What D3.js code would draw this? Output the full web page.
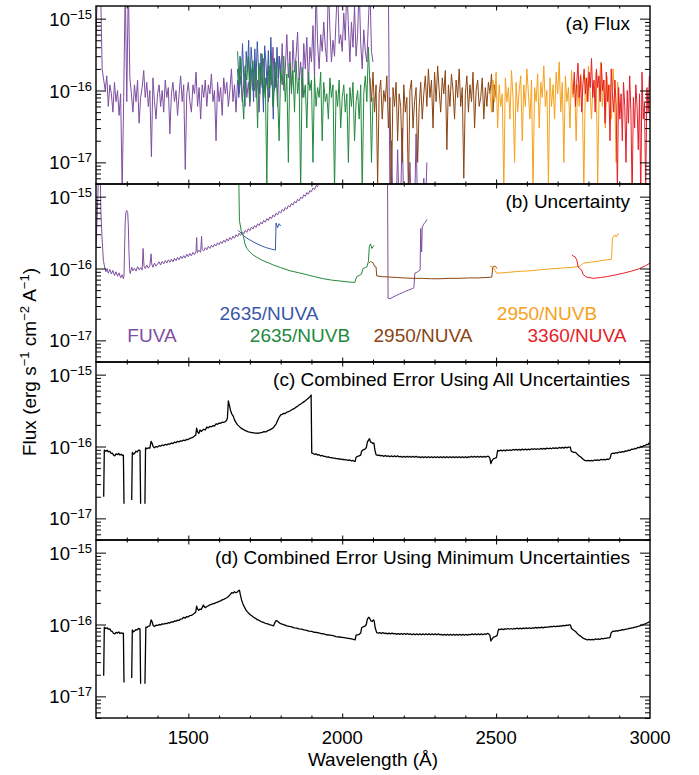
<!DOCTYPE html>
<html><head><meta charset="utf-8">
<script src="https://cdn.jsdelivr.net/npm/d3@7"></script>
<style>
body{margin:0;background:#fff}
svg{display:block}
text{font-family:"Liberation Sans",Arial,Helvetica,sans-serif;fill:#000}
</style>
</head><body>
<svg id="chart" width="699" height="775"></svg>
<script>
// ---------- data (flux values in units of 1e-17 erg s^-1 cm^-2 A^-1) ----------
const UNIT = 1e-17;
const xTickLabels = [1500, 2000, 2500, 3000];
const yMajorExps = [-15, -16, -17];
const panelTitles = ["(a) Flux", "(b) Uncertainty",
  "(c) Combined Error Using All Uncertainties",
  "(d) Combined Error Using Minimum Uncertainties"];
const settingNames = ["FUVA", "2635/NUVA", "2635/NUVB", "2950/NUVA", "2950/NUVB", "3360/NUVA"];

// (a) flux spectra: regular wavelength grid (start, step) + values
const fluxFUVA_grid = [1200, 5];
const fluxFUVA = [
 60,250,300,250,20,14,10,16,6,12,
 9,5,13,7,10,4.5,9,0.4,8,300,
 7,300,15,9,5,12,7,14,3.5,8,
 11,19,8,13,6,10,1.2,15,7,4,
 9,12,6,10,5,14,8,11,2.5,9,
 13,7,10,4.5,9,16,7,12,0.8,9,
 13,7,5,12,9,18,6,11,4,12,
 8,14,6,12,9,17,7,10,2,13,
 7,11,4.5,15,9,13,6,10,20,7,
 12,5,14,9,16,7,12,22,8,13,
 6,18,10,25,8,14,5,19,11,28,
 9,15,7,22,12,40,10,18,6,30,
 13,45,10,20,60,15,35,9,50,18,
 30,65,14,25,8,45,20,55,12,40,
 25,80,15,300,45,20,60,35,90,40,
 25,300,70,25,50,30,100,300,45,60,
 35,120,50,300,80,25,90,40,150,30,
 60,300,45,20,70,35,25,90,300,35,
 25];
const fluxFUVA2_grid = [2150, 5];
const fluxFUVA2 = [300,0.3,2,0.2,0.3,0.2,1.5,0.2,0.3,3,0.2,0.2,0.3,0.2,1,0.2,0.3,0.2,2.5,0.2,0.2,0.3,0.2,0.6,0.2,1];
const flux2635NUVA_grid = [1660, 4];
const flux2635NUVA = [20,8,30,12,45,15,6,35,18,50,10,40,22,7,38,14,48,20,9,33,16,5,42,25,12,36,8,55,18,4,28,11,40,15,30,20];
const flux2635NUVB_grid = [1660, 5];
const flux2635NUVB = [
 35,12,28,9,4,22,14,30,7,18,
 26,10,20,3,24,12,32,8,15,0.5,
 22,11,28,6,14,25,9,2,20,12,
 30,7,17,1,24,10,19,5,26,9,
 15,0.4,21,8,12,3,18,10,14,1,
 16,6,11,8,18,2,13,7,9,4,
 15,8,12,0.4,10,6,14,3,8,12,
 5,9,1,11,6,13,2,7,10,4,
 12,0.4,9,16,7,40,12,1,8];
const flux2950NUVA_grid = [2090, 5];
const flux2950NUVA = [
 15,7,18,5,12,0.5,9,14,4,10,
 7,16,3,8,0.4,11,6,13,2,9,
 6,1,12,5,8,0.4,10,14,3,7,
 11,1,6,13,4,9,16,6,20,8,
 14,3,18,7,22,10,5,15,9,19,
 1.5,12,6,17,10,4,14,8,20,6,
 11,0.6,9,16,5,12,7,18,3,10,
 14,6,8,15,4,11,6,13,9,17,
 5,12,8];
const flux2950NUVB_grid = [2480, 5];
const flux2950NUVB = [
 10,5,14,7,18,3,12,6,9,0.4,
 15,7,11,4,19,8,1,13,5,10,
 16,2,12,6,20,9,4,14,0.4,11,
 7,17,3,13,8,22,6,10,0.5,15,
 6,12,4,18,9,25,5,13,1,16,
 7,11,3,19,8,14,2,12,6,17,
 9,0.4,15,7,22,10,4,13,8,18,
 0.5,11,25,6,14,3,16,7,12,4,
 20,9,1,13,6];
const flux3360NUVA_grid = [2750, 4];
const flux3360NUVA = [
 9,18,6,13,24,8,16,5,12,20,
 9,15,7,18,11,28,8,14,5,20,
 11,16,7,24,10,14,3.5,18,7,12,
 2,20,9,5,14,6,0.4,11,4,9,
 2,13,6,1,10,3.5,16,5,0.3,8,
 3,12,6,1.5,9,0.3,18,4,7,0.4,
 11,5,16];

// (b) uncertainty curves: [wavelength, value]
const uncFUVA = [[1200,20],[1206,100],[1209,300],[1213,300],[1216,60],[1220,25],[1224,13],[1228,10.5],[1232,9.0],[1236,10.0],[1240,8.6],[1245,9.7],[1250,8.4],[1255,9.4],[1260,8.0],[1265,9.0],[1270,7.8],[1275,8.7],[1280,7.4],[1285,8.2],[1289,7.2],[1291,8],[1293,20],[1295,45],[1297,60],[1300,64],[1303,60],[1305,40],[1307,18],[1309,10],[1311,8.5],[1316,10.4],[1320,9.3],[1325,10.1],[1330,9.2],[1335,10.6],[1340,9.6],[1345,10.3],[1350,9.5],[1353,19],[1356,10.8],[1360,10.0],[1365,11.2],[1370,10.1],[1375,11.0],[1379,16],[1381,11.6],[1385,10.4],[1390,11.9],[1395,10.8],[1400,11.5],[1405,12.4],[1410,11.2],[1415,12.6],[1420,11.6],[1425,12.9],[1430,11.9],[1435,13.2],[1440,12.2],[1445,13.5],[1450,12.4],[1455,13.9],[1460,12.9],[1465,14.3],[1470,13.2],[1475,14.8],[1480,13.8],[1485,15.1],[1490,14.0],[1495,15.8],[1500,14.6],[1505,16.2],[1510,15.0],[1515,16.8],[1520,15.6],[1525,17.2],[1527,27],[1529,16.5],[1535,18.0],[1540,16.8],[1543,28],[1545,18.3],[1550,17.6],[1555,19.5],[1560,18.2],[1565,20.3],[1570,19.0],[1575,21.0],[1580,19.8],[1585,21.9],[1590,20.6],[1595,22.8],[1600,21.4],[1605,23.7],[1610,22.3],[1615,24.8],[1620,23.2],[1625,25.9],[1630,24.1],[1635,27.0],[1640,25.3],[1645,28.2],[1650,26.4],[1655,29.5],[1660,27.7],[1665,30.9],[1670,29.0],[1675,32.4],[1680,30.4],[1685,34.0],[1690,31.9],[1695,35.8],[1700,33.6],[1705,37.7],[1710,35.4],[1715,39.7],[1720,37.3],[1725,41.9],[1730,39.4],[1735,44.2],[1740,41.6],[1745,46.7],[1750,44.0],[1755,49.4],[1760,46.5],[1765,52.3],[1770,49.3],[1775,55.4],[1780,52.3],[1785,58.8],[1790,55.5],[1795,62.4],[1800,59.0],[1805,66.4],[1810,62.8],[1815,70.7],[1820,66.9],[1825,75.4],[1830,71.4],[1835,80.5],[1840,76.3],[1845,86.0],[1850,81.6],[1855,92.0],[1860,87.4],[1865,98.6],[1870,93.7],[1875,106],[1880,101],[1885,114],[1890,108],[1895,122],[1900,117],[1905,132],[1910,126],[1915,143],[1920,137],[1925,160]];
const uncFUVA2 = [[2147,300],[2149,3.85],[2155,3.8],[2165,4.0],[2175,4.2],[2185,4.4],[2195,4.6],[2205,4.8],[2215,5.0],[2225,5.2],[2231,5.3],[2233,5.6],[2236,8.6],[2245,9.0],[2253,9.5],[2255,36],[2258,17],[2260,38],[2266,42],[2270,44],[2275,48]];
const unc2635NUVA = [[1662,34],[1668,32],[1675,30.5],[1680,28.5],[1690,26.5],[1700,25],[1710,23.6],[1720,22.4],[1730,21.4],[1740,20.5],[1750,19.7],[1760,19.1],[1770,18.6],[1780,18.2],[1783,18],[1785,43],[1790,37],[1795,42],[1800,39]];
const unc2635NUVB = [[1662,300],[1663,300],[1666,47],[1672,33],[1679,28],[1684,22],[1690,19],[1700,17],[1710,15.5],[1722,14.4],[1740,13],[1760,12],[1776,11.2],[1800,10.3],[1830,9.3],[1860,8.7],[1885,8.2],[1910,7.7],[1939,7.2],[1965,6.9],[1993,6.7],[2020,6.5],[2041,6.4],[2047,7.7],[2055,8],[2062,8.3],[2068,10],[2075,10.3],[2080,10.5],[2085,12.5],[2088,20],[2092,22],[2096,19],[2100,20],[2104,21]];
const unc2950NUVA = [[2088,12],[2092,12.5],[2096,12.3],[2100,12],[2105,10.7],[2110,10.5],[2112,7.9],[2130,7.7],[2155,7.6],[2180,7.5],[2200,7.4],[2230,7.3],[2260,7.3],[2290,7.2],[2318,7.2],[2350,7.3],[2380,7.3],[2410,7.4],[2440,7.4],[2470,7.5],[2486,7.6],[2489,10.4],[2496,10.8],[2504,10]];
const unc2950NUVB = [[2480,10.7],[2490,10.5],[2496,9.5],[2502,8.6],[2534,8.8],[2570,9.1],[2610,9.3],[2643,9.6],[2680,9.9],[2720,10.2],[2751,10.4],[2773,10.8],[2784,11.9],[2810,12.3],[2840,12.8],[2859,13.2],[2875,13.5],[2878,26.4],[2886,29.3],[2890,27.5],[2897,31]];
const unc3360NUVA = [[2746,15.5],[2752,14.8],[2756,14.6],[2762,13.2],[2767,10.4],[2778,9.5],[2783,8.2],[2794,7.6],[2816,7.3],[2840,7.5],[2859,7.7],[2885,8.1],[2913,8.6],[2940,9.2],[2967,10],[2985,10.9],[3000,11.9]];

// (c) combined error, all uncertainties (null = gap)
const errAll = [[1225,2.0],[1227,8.9],[1232,8.6],[1236,8.9],[1240,8.4],[1245,8.6],[1249,8.0],[1253,8.1],[1257,7.6],[1261,7.4],[1265,7.9],[1270,7.7],[1274,8.0],[1278,7.6],[1282,7.8],[1286,7.5],[1289,7.6],[1291,1.6],[1300,null],[1316,1.8],[1318,8.3],[1322,7.8],[1326,8.1],[1330,8.6],[1334,8.4],[1338,8.9],[1343,8.8],[1345,1.6],[1352,null],[1359,1.6],[1361,9.6],[1365,9.3],[1370,9.6],[1375,9.5],[1379,11.8],[1382,11.2],[1386,9.9],[1390,9.6],[1395,10.0],[1400,9.8],[1405,10.3],[1410,10.1],[1415,10.5],[1420,10.3],[1425,10.7],[1430,10.5],[1435,10.9],[1440,10.8],[1445,11.2],[1450,11.0],[1455,11.5],[1460,11.3],[1465,11.8],[1470,11.6],[1475,12.0],[1480,11.9],[1485,12.3],[1490,12.1],[1495,12.6],[1500,12.5],[1505,13.0],[1510,13.2],[1515,13.4],[1520,14.0],[1524,14.4],[1527,18.0],[1530,16.0],[1534,15.2],[1538,17.0],[1542,16.2],[1546,16.8],[1550,17.4],[1555,17.0],[1560,18.6],[1565,18.2],[1570,19.0],[1575,18.8],[1580,19.5],[1585,19.3],[1590,20.6],[1595,20.4],[1600,21.2],[1605,21.0],[1610,21.8],[1615,21.6],[1620,22.3],[1624,23.0],[1627,25],[1630,43],[1633,38],[1637,32],[1641,28.5],[1646,26.5],[1650,23.5],[1655,21.5],[1660,20],[1668,18.6],[1675,17.6],[1680,17.2],[1685,16.6],[1690,16.4],[1695,16.0],[1700,15.9],[1705,15.6],[1710,15.6],[1715,15.4],[1720,15.4],[1727,15.3],[1733,15.5],[1740,15.7],[1746,16.1],[1752,16.0],[1758,16.6],[1765,17.0],[1770,17.6],[1775,18.0],[1780,19.2],[1785,20.5],[1790,23],[1795,25.5],[1800,27.5],[1805,28.0],[1810,29.0],[1815,28.8],[1820,30.0],[1825,30.5],[1830,31.2],[1835,32.2],[1840,33.2],[1845,34.0],[1850,35.3],[1855,36.4],[1860,37.8],[1865,39.0],[1870,40.3],[1875,41.8],[1880,43.3],[1885,45.0],[1890,47.0],[1895,49.5],[1899,52],[1901,8.1],[1905,8.0],[1910,7.8],[1915,7.9],[1920,7.6],[1925,7.7],[1930,7.4],[1935,7.5],[1940,7.3],[1945,7.3],[1950,7.1],[1955,7.2],[1960,7.0],[1965,7.0],[1970,6.9],[1975,6.9],[1980,6.8],[1985,6.8],[1990,6.7],[1995,6.7],[2000,6.6],[2005,6.6],[2010,6.5],[2015,6.5],[2020,6.4],[2025,6.5],[2030,6.3],[2035,6.4],[2040,6.2],[2042,6.2],[2045,7.1],[2050,7.3],[2055,7.4],[2060,7.6],[2063,8.6],[2068,9.0],[2074,9.2],[2078,9.6],[2082,11.6],[2086,12.4],[2089,12.8],[2092,11.5],[2096,11.4],[2100,11.0],[2103,11.2],[2106,9.0],[2110,7.7],[2115,7.5],[2120,7.6],[2125,7.4],[2130,7.5],[2135,7.3],[2140,7.5],[2145,7.3],[2150,7.4],[2155,7.2],[2160,7.4],[2165,7.2],[2170,7.4],[2175,7.2],[2180,7.4],[2185,7.2],[2190,7.3],[2195,7.1],[2200,7.3],[2205,7.1],[2210,7.3],[2215,7.1],[2220,7.3],[2225,7.1],[2230,7.3],[2235,7.1],[2240,7.3],[2245,7.1],[2250,7.2],[2255,7.0],[2260,7.2],[2265,7.0],[2270,7.2],[2275,7.0],[2280,7.2],[2285,7.0],[2290,7.2],[2295,7.0],[2300,7.2],[2305,7.0],[2310,7.2],[2315,7.0],[2320,7.2],[2325,7.0],[2330,7.2],[2335,7.0],[2340,7.2],[2345,7.0],[2350,7.2],[2355,7.0],[2360,7.2],[2365,7.0],[2370,7.2],[2375,7.0],[2380,7.2],[2385,7.0],[2390,7.2],[2395,7.0],[2400,7.2],[2405,7.0],[2410,7.2],[2415,7.1],[2420,7.3],[2425,7.1],[2430,7.3],[2435,7.1],[2440,7.3],[2445,7.1],[2450,7.3],[2455,7.1],[2460,7.3],[2465,7.1],[2470,7.3],[2476,7.3],[2480,6.8],[2483,5.8],[2487,6.4],[2492,6.8],[2497,6.9],[2501,7.0],[2505,8.8],[2510,8.7],[2515,8.9],[2520,8.7],[2525,8.9],[2530,8.7],[2535,9.0],[2540,8.8],[2545,9.0],[2550,8.8],[2555,9.1],[2560,8.9],[2565,9.1],[2570,8.9],[2575,9.1],[2580,8.9],[2585,9.2],[2590,9.0],[2595,9.2],[2600,9.0],[2605,9.2],[2610,9.0],[2615,9.3],[2620,9.1],[2625,9.3],[2630,9.1],[2635,9.3],[2640,9.1],[2645,9.4],[2650,9.2],[2655,9.4],[2660,9.2],[2665,9.5],[2670,9.3],[2675,9.5],[2680,9.3],[2685,9.6],[2690,9.4],[2695,9.6],[2700,9.4],[2705,9.7],[2710,9.5],[2715,9.7],[2720,9.5],[2725,9.8],[2730,9.6],[2735,9.8],[2741,9.8],[2744,8.6],[2752,8.3],[2758,8.3],[2764,7.8],[2770,7.4],[2776,7.1],[2782,6.7],[2788,6.4],[2794,6.3],[2800,6.4],[2805,6.3],[2810,6.4],[2815,6.3],[2820,6.5],[2825,6.4],[2830,6.5],[2835,6.4],[2840,6.6],[2845,6.5],[2850,6.6],[2855,6.5],[2860,6.7],[2865,6.6],[2870,6.8],[2874,7.9],[2880,8.1],[2885,8.0],[2890,8.2],[2895,8.1],[2900,8.4],[2905,8.3],[2910,8.5],[2915,8.4],[2920,8.7],[2925,8.6],[2930,8.9],[2935,8.8],[2940,9.2],[2945,9.1],[2950,9.4],[2955,9.3],[2960,9.7],[2965,9.6],[2970,10.0],[2975,9.9],[2980,10.3],[2985,10.4],[2990,10.7],[2994,10.6],[2997,11.2],[3000,11.0]];

// (d) combined error, minimum uncertainties
const errMin = [[1225,1.93],[1227,9.2],[1232,8.8],[1236,9.0],[1240,8.6],[1245,8.7],[1249,8.1],[1253,8.0],[1257,7.5],[1261,7.4],[1265,7.8],[1270,7.6],[1274,7.9],[1278,7.5],[1282,7.7],[1286,7.5],[1289,7.6],[1291,1.56],[1300,null],[1316,1.8],[1318,8.4],[1322,7.9],[1326,8.2],[1330,8.5],[1334,8.4],[1338,8.8],[1343,8.7],[1345,1.5],[1352,null],[1359,1.5],[1362,9.2],[1366,9.1],[1370,9.5],[1375,9.6],[1379,11.6],[1382,11.0],[1386,9.6],[1390,9.4],[1395,9.8],[1400,9.7],[1405,10.0],[1410,9.9],[1415,10.2],[1420,10.1],[1425,10.4],[1430,10.3],[1435,10.6],[1440,10.5],[1445,10.9],[1450,10.8],[1455,11.2],[1460,11.1],[1465,11.5],[1470,11.4],[1475,11.9],[1480,12.0],[1485,12.6],[1490,12.3],[1495,12.9],[1500,12.8],[1505,13.3],[1510,13.4],[1515,13.8],[1520,14.4],[1524,14.8],[1527,18.0],[1530,16.4],[1534,15.8],[1538,16.4],[1542,16.2],[1546,17.6],[1549,18.7],[1552,17.6],[1556,17.2],[1560,17.8],[1565,18.2],[1570,18.8],[1575,19.0],[1580,19.5],[1585,19.6],[1590,20.2],[1595,20.4],[1600,21.0],[1605,21.3],[1610,22.0],[1615,22.4],[1620,23.0],[1625,23.6],[1630,24.6],[1635,25.8],[1641,27.7],[1645,27.3],[1650,28.5],[1655,27.6],[1659,28.4],[1663,29.6],[1666,30],[1669,26],[1673,22],[1677,19.5],[1682,17.6],[1687,16.0],[1692,15.0],[1700,13.8],[1706,13.2],[1712,12.6],[1718,12.2],[1724,11.7],[1730,11.4],[1736,11.0],[1742,10.8],[1750,10.4],[1758,10.2],[1766,9.9],[1773,9.7],[1777,9.6],[1781,10.6],[1785,11.3],[1789,11.2],[1793,10.8],[1798,10.4],[1805,10.1],[1812,9.9],[1820,9.6],[1828,9.4],[1836,9.3],[1844,9.0],[1852,8.9],[1860,8.7],[1868,8.6],[1876,8.4],[1884,8.3],[1892,8.1],[1900,8.0],[1910,7.8],[1920,7.7],[1930,7.5],[1940,7.4],[1950,7.2],[1960,7.1],[1970,7.0],[1980,6.8],[1990,6.7],[2000,6.6],[2010,6.5],[2020,6.4],[2030,6.3],[2042,6.1],[2045,7.1],[2050,7.2],[2055,7.3],[2060,7.6],[2063,9.0],[2068,9.3],[2074,9.5],[2078,10.0],[2082,12.0],[2086,12.6],[2089,12.2],[2093,11.3],[2097,11.0],[2101,11.6],[2104,11.2],[2107,9.0],[2112,7.7],[2117,7.6],[2122,7.7],[2127,7.5],[2132,7.7],[2137,7.5],[2142,7.6],[2147,7.4],[2152,7.6],[2157,7.4],[2162,7.6],[2167,7.4],[2172,7.5],[2177,7.3],[2182,7.5],[2187,7.3],[2192,7.5],[2197,7.3],[2202,7.5],[2207,7.3],[2212,7.5],[2217,7.3],[2222,7.4],[2227,7.2],[2232,7.4],[2237,7.2],[2242,7.4],[2247,7.2],[2252,7.4],[2257,7.2],[2262,7.4],[2267,7.2],[2272,7.4],[2277,7.2],[2282,7.4],[2287,7.2],[2292,7.4],[2297,7.2],[2302,7.4],[2307,7.2],[2312,7.4],[2317,7.2],[2322,7.3],[2327,7.1],[2332,7.3],[2337,7.1],[2342,7.3],[2347,7.1],[2352,7.3],[2357,7.1],[2362,7.3],[2367,7.1],[2372,7.3],[2377,7.1],[2382,7.3],[2387,7.1],[2392,7.3],[2397,7.1],[2402,7.3],[2407,7.1],[2412,7.3],[2417,7.2],[2422,7.4],[2427,7.2],[2432,7.4],[2437,7.2],[2442,7.4],[2447,7.2],[2452,7.4],[2457,7.2],[2462,7.4],[2467,7.3],[2472,7.5],[2476,7.4],[2480,7.0],[2483,5.9],[2487,6.3],[2492,6.7],[2497,6.8],[2503,7.0],[2508,8.6],[2513,8.5],[2518,8.7],[2523,8.5],[2528,8.7],[2533,8.6],[2538,8.8],[2543,8.6],[2548,8.8],[2553,8.6],[2558,8.8],[2563,8.7],[2568,8.9],[2573,8.7],[2578,8.9],[2583,8.7],[2588,8.9],[2593,8.8],[2598,9.0],[2603,8.8],[2608,9.0],[2613,8.8],[2618,9.0],[2623,8.9],[2628,9.1],[2633,8.9],[2638,9.1],[2643,9.0],[2648,9.2],[2653,9.0],[2658,9.2],[2663,9.1],[2668,9.3],[2673,9.2],[2678,9.4],[2683,9.3],[2688,9.5],[2693,9.3],[2698,9.5],[2703,9.4],[2708,9.6],[2713,9.5],[2718,9.7],[2723,9.6],[2728,9.8],[2733,9.7],[2737,9.9],[2741,9.9],[2745,8.8],[2751,8.4],[2758,8.0],[2765,7.4],[2772,7.0],[2778,6.7],[2784,6.4],[2792,6.2],[2797,6.1],[2802,6.2],[2807,6.1],[2812,6.2],[2817,6.1],[2822,6.3],[2827,6.2],[2832,6.3],[2837,6.2],[2842,6.4],[2847,6.3],[2852,6.4],[2857,6.4],[2862,6.5],[2867,6.5],[2870,6.6],[2874,7.7],[2880,8.1],[2885,8.0],[2890,8.2],[2895,8.1],[2900,8.3],[2905,8.3],[2910,8.5],[2915,8.4],[2920,8.6],[2925,8.6],[2930,8.8],[2935,8.8],[2940,9.0],[2945,9.0],[2950,9.2],[2955,9.2],[2960,9.4],[2965,9.5],[2970,9.7],[2975,9.8],[2980,10.1],[2985,10.2],[2990,10.5],[2995,10.7],[3000,11.1]];

// ---------- styling / layout ----------
const COLORS = {FUVA:"#7e4fa1", N2635A:"#3a56a8", N2635B:"#22893d", N2950A:"#8b4513", N2950B:"#f6a11c", N3360A:"#e61e28"};
const L = 96, R = 650, PH = 178;
const tops = [6, 184, 362, 540];
const X_DOMAIN = [1200, 3000];
const Y_DOMAIN = [5e-18, 1.5e-15];

const svg = d3.select("#chart");
const x = d3.scaleLinear().domain(X_DOMAIN).range([L, R]);

const yMajor = yMajorExps.map(e => Math.pow(10, e));
const yMinor = [];
[-18, -17, -16].forEach(e => { for (let m = 2; m <= 9; m++) { const v = m * Math.pow(10, e); if (v >= Y_DOMAIN[0] && v <= Y_DOMAIN[1]) yMinor.push(v); } });
const xMinor = d3.range(1300, 3000, 100).filter(v => v % 500 !== 0);
const xMajor = [1500, 2000, 2500];

const gridSeries = (grid, vals) => vals.map((v, i) => [grid[0] + i * grid[1], v]);

const panelsData = [
  [ {pts: gridSeries(fluxFUVA_grid, fluxFUVA), c: COLORS.FUVA},
    {pts: gridSeries(fluxFUVA2_grid, fluxFUVA2), c: COLORS.FUVA},
    {pts: gridSeries(flux2635NUVA_grid, flux2635NUVA), c: COLORS.N2635A},
    {pts: gridSeries(flux2635NUVB_grid, flux2635NUVB), c: COLORS.N2635B},
    {pts: gridSeries(flux2950NUVA_grid, flux2950NUVA), c: COLORS.N2950A},
    {pts: gridSeries(flux2950NUVB_grid, flux2950NUVB), c: COLORS.N2950B},
    {pts: gridSeries(flux3360NUVA_grid, flux3360NUVA), c: COLORS.N3360A} ],
  [ {pts: uncFUVA, c: COLORS.FUVA}, {pts: uncFUVA2, c: COLORS.FUVA},
    {pts: unc2635NUVA, c: COLORS.N2635A}, {pts: unc2635NUVB, c: COLORS.N2635B},
    {pts: unc2950NUVA, c: COLORS.N2950A}, {pts: unc2950NUVB, c: COLORS.N2950B},
    {pts: unc3360NUVA, c: COLORS.N3360A} ],
  [ {pts: errAll, c: "#000", w: 1.3} ],
  [ {pts: errMin, c: "#000", w: 1.3} ]
];

const defs = svg.append("defs");

tops.forEach((top, pi) => {
  const y = d3.scaleLog().domain(Y_DOMAIN).range([top + PH, top]);
  defs.append("clipPath").attr("id", "clip" + pi)
    .append("rect").attr("x", L).attr("y", top).attr("width", R - L).attr("height", PH);
  const g = svg.append("g");
  const line = d3.line().defined(d => d[1] != null).x(d => x(d[0])).y(d => y(d[1] * UNIT));
  const dg = g.append("g").attr("clip-path", `url(#clip${pi})`);
  panelsData[pi].forEach(s => {
    dg.append("path").attr("d", line(s.pts)).attr("fill", "none")
      .attr("stroke", s.c).attr("stroke-width", s.w || 1).attr("stroke-linejoin", "round");
  });

  // axes (ticks inward)
  const mk = (axis, vals, size, tx, ty) => {
    const a = g.append("g").attr("transform", `translate(${tx},${ty})`)
      .call(axis.tickValues(vals).tickSize(-size).tickFormat(""));
    a.select(".domain").remove();
    a.selectAll("line").attr("stroke", "#000").attr("stroke-width", 1);
  };
  mk(d3.axisLeft(y), yMajor, 10, L, 0);
  mk(d3.axisLeft(y), yMinor, 5, L, 0);
  mk(d3.axisRight(y), yMajor, 10, R, 0);
  mk(d3.axisRight(y), yMinor, 5, R, 0);
  mk(d3.axisBottom(x), xMajor, 4.5, 0, top + PH);
  mk(d3.axisBottom(x), xMinor, 2.5, 0, top + PH);
  mk(d3.axisTop(x), xMajor, 4.5, 0, top);
  mk(d3.axisTop(x), xMinor, 2.5, 0, top);

  g.append("rect").attr("x", L).attr("y", top).attr("width", R - L).attr("height", PH)
    .attr("fill", "none").attr("stroke", "#000").attr("stroke-width", 1.4);

  // y tick labels 10^n
  yMajorExps.forEach(e => {
    const t = g.append("text").attr("x", 92).attr("y", y(Math.pow(10, e)) + 7)
      .attr("text-anchor", "end").attr("font-size", 18.5);
    t.append("tspan").text("10");
    t.append("tspan").attr("dy", -7).attr("font-size", 13).text("\u2212" + (-e));
  });

  // panel title
  g.append("text").attr("x", 630).attr("y", top + 23.5).attr("text-anchor", "end")
    .attr("font-size", 19).text(panelTitles[pi]);

  if (pi === 1) {
    const labs = [
      {t: settingNames[0], x: 152, y: 341.5, c: COLORS.FUVA},
      {t: settingNames[1], x: 269, y: 320, c: COLORS.N2635A},
      {t: settingNames[2], x: 300, y: 341.5, c: COLORS.N2635B},
      {t: settingNames[3], x: 423, y: 341.5, c: COLORS.N2950A},
      {t: settingNames[4], x: 547, y: 320, c: COLORS.N2950B},
      {t: settingNames[5], x: 577, y: 341.5, c: COLORS.N3360A}
    ];
    labs.forEach(l => g.append("text").attr("x", l.x).attr("y", l.y).attr("text-anchor", "middle")
      .attr("font-size", 19).style("fill", l.c).text(l.t));
  }
  if (pi === 3) {
    xTickLabels.forEach(v => g.append("text").attr("x", x(v)).attr("y", top + PH + 25.5)
      .attr("text-anchor", "middle").attr("font-size", 18.5).text(v));
  }
});

// axis titles
svg.append("text").attr("x", (L + R) / 2).attr("y", 766).attr("text-anchor", "middle")
  .attr("font-size", 19).text("Wavelength (\u00C5)");
const yt = svg.append("text").attr("transform", "translate(36,362) rotate(-90)")
  .attr("text-anchor", "middle").attr("font-size", 19);
yt.append("tspan").text("Flux (erg s");
yt.append("tspan").attr("dy", -7).attr("font-size", 13).text("\u22121");
yt.append("tspan").attr("dy", 7).text(" cm");
yt.append("tspan").attr("dy", -7).attr("font-size", 13).text("\u22122");
yt.append("tspan").attr("dy", 7).text(" A");
yt.append("tspan").attr("dy", -7).attr("font-size", 13).text("\u22121");
yt.append("tspan").attr("dy", 7).text(")");
</script>
</body></html>
